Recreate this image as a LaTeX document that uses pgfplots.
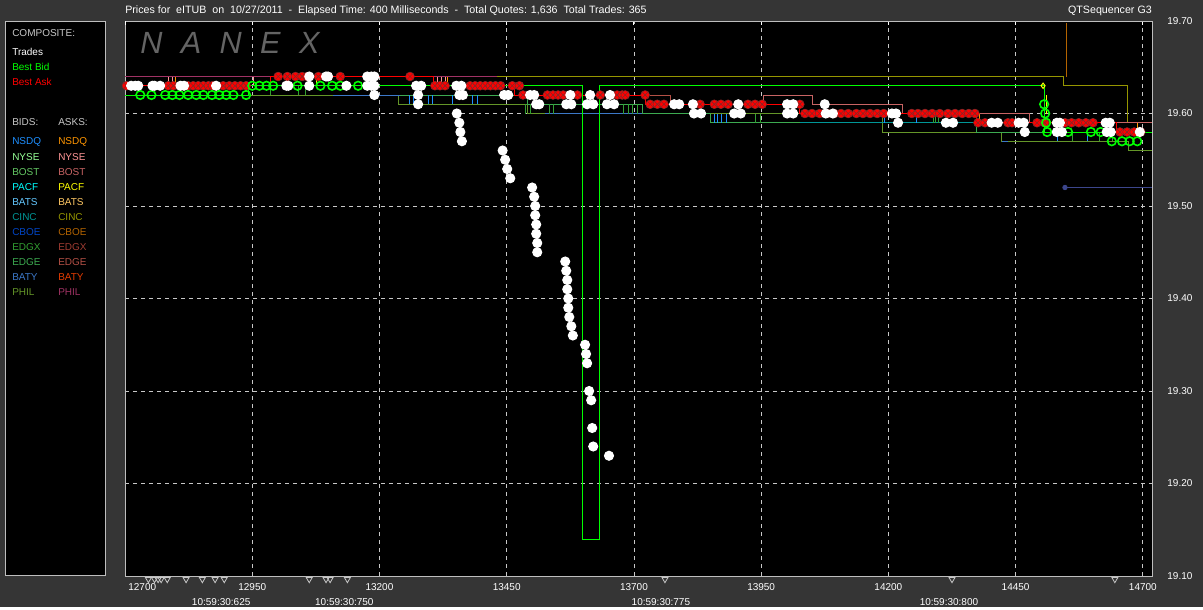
\documentclass[border=0pt]{standalone}
\usepackage{pgfplots}
\pgfplotsset{compat=1.18}
\usepackage{fontspec}
\setmainfont{Liberation Sans}
\newfontfamily\nanexfont[LetterSpace=60]{Liberation Sans}
\def\ttl{\fontsize{8pt}{9.6pt}\selectfont}
\def\lab{\fontsize{7.5pt}{9pt}\selectfont}
\definecolor{bg}{RGB}{53,53,53}
\definecolor{frame}{RGB}{190,190,190}
\definecolor{gridc}{RGB}{200,200,200}
\definecolor{lgray}{RGB}{200,200,200}
\definecolor{nanexgray}{RGB}{100,100,100}
\definecolor{bidgreen}{RGB}{0,255,0}
\definecolor{askred}{RGB}{255,0,0}
\definecolor{askdark}{RGB}{130,40,40}
\definecolor{nsdqB}{RGB}{30,144,255}
\definecolor{nyseB}{RGB}{150,255,150}
\definecolor{bostB}{RGB}{100,200,100}
\definecolor{pacfB}{RGB}{0,255,255}
\definecolor{batsB}{RGB}{100,200,255}
\definecolor{cincB}{RGB}{0,150,150}
\definecolor{cboeB}{RGB}{0,70,200}
\definecolor{edgxB}{RGB}{50,160,50}
\definecolor{edgeB}{RGB}{60,170,80}
\definecolor{batyB}{RGB}{60,120,200}
\definecolor{philB}{RGB}{100,150,40}
\definecolor{nsdqA}{RGB}{255,150,0}
\definecolor{nyseA}{RGB}{255,150,150}
\definecolor{bostA}{RGB}{200,100,100}
\definecolor{pacfA}{RGB}{255,255,0}
\definecolor{batsA}{RGB}{255,200,100}
\definecolor{cincA}{RGB}{150,150,0}
\definecolor{cboeA}{RGB}{180,100,0}
\definecolor{edgxA}{RGB}{160,60,50}
\definecolor{edgeA}{RGB}{180,80,70}
\definecolor{batyA}{RGB}{230,60,0}
\definecolor{philA}{RGB}{160,50,100}
\definecolor{navy}{RGB}{60,70,140}
\begin{document}
\begin{tikzpicture}
\begin{scope}[x=0.75pt,y=-0.75pt,yshift=455.25pt]
  \fill[bg] (0,0) rectangle (1203,607);
  \filldraw[fill=black, draw=frame, line width=0.75pt] (5,22) rectangle (105,575);
  \node[anchor=west, inner sep=0, text=white, font=\ttl] at (125,11) {Prices for\ \ eITUB\ \ on\ \ 10/27/2011\ \ -\ \ Elapsed Time: 400 Milliseconds\ \ -\ \ Total Quotes: 1,636\ \ Total Trades: 365};
  \node[anchor=east, inner sep=0, text=white, font=\ttl] at (1152,11) {QTSequencer G3};
  \begin{scope}[every node/.style={anchor=west, inner sep=0, font=\lab}]
    \node[text=lgray] at (12,33) {COMPOSITE:};
    \node[text=white] at (12,52) {Trades};
    \node[text=bidgreen] at (12,67) {Best Bid};
    \node[text=askred] at (12,82) {Best Ask};
    \node[text=lgray] at (12,122) {BIDS:};
    \node[text=lgray] at (58,122) {ASKS:};
    \node[text=nsdqB] at (12,142) {NSDQ}; \node[text=nsdqA] at (58,142) {NSDQ};
    \node[text=nyseB] at (12,157) {NYSE}; \node[text=nyseA] at (58,157) {NYSE};
    \node[text=bostB] at (12,172) {BOST}; \node[text=bostA] at (58,172) {BOST};
    \node[text=pacfB] at (12,187) {PACF}; \node[text=pacfA] at (58,187) {PACF};
    \node[text=batsB] at (12,202) {BATS}; \node[text=batsA] at (58,202) {BATS};
    \node[text=cincB] at (12,217) {CINC}; \node[text=cincA] at (58,217) {CINC};
    \node[text=cboeB] at (12,232) {CBOE}; \node[text=cboeA] at (58,232) {CBOE};
    \node[text=edgxB] at (12,247) {EDGX}; \node[text=edgxA] at (58,247) {EDGX};
    \node[text=edgeB] at (12,262) {EDGE}; \node[text=edgeA] at (58,262) {EDGE};
    \node[text=batyB] at (12,277) {BATY}; \node[text=batyA] at (58,277) {BATY};
    \node[text=philB] at (12,292) {PHIL}; \node[text=philA] at (58,292) {PHIL};
  \end{scope}
\end{scope}
\begin{axis}[
  at={(93.75pt,23.25pt)}, anchor=south west,
  scale only axis, width=770.25pt, height=416.25pt,
  xmin=12700, xmax=14718, ymin=19.10, ymax=19.70,
  axis background/.style={fill=black},
  axis line style={draw=frame, line width=0.75pt},
  clip=false,
  scaled ticks=false, scaled x ticks=false, scaled y ticks=false,
  xtick={12950,13200,13450,13700,13950,14200,14450,14700},
  xticklabels={12950,13200,13450,13700,13950,14200,14450,14700},
  extra x ticks={12700}, extra x tick labels={12700},
  extra x tick style={xmajorgrids=false, xticklabel style={anchor=north west, xshift=-1pt}},
  ytick={19.2,19.3,19.4,19.5,19.6},
  yticklabels={19.20,19.30,19.40,19.50,19.60},
  extra y ticks={19.1,19.7}, extra y tick labels={19.10,19.70},
  extra y tick style={ymajorgrids=false},
  xmajorgrids, ymajorgrids,
  major grid style={draw=gridc, line width=0.6pt, dash pattern=on 3pt off 3pt},
  xtick pos=right, xticklabel pos=left,
  ytick pos=right, yticklabel pos=right,
  ytick style={draw=none},
  xtick style={draw=white, line width=0.75pt},
  major tick length=3pt,
  tick label style={font=\lab, text=white},
  yticklabel style={anchor=west, xshift=8pt},
  xticklabel style={yshift=-2pt},
  every axis plot/.append style={line width=0.75pt},
]
% ---- exchange quote lines (asks) ----
\addplot[draw=philA] coordinates {(12700,19.64) (12985,19.64)};
\addplot[draw=philA] coordinates {(13306,19.64) (13431,19.64)};
\addplot[draw=cincA, const plot] coordinates {(13431,19.64) (14545,19.63) (14669,19.59) (14718,19.59)};
\addplot[draw=cboeA] coordinates {(14550,19.698) (14550,19.640)};
\addplot[draw=bostA, const plot] coordinates {(13954,19.62) (14050,19.61) (14228,19.60) (14478,19.59) (14718,19.59)};
\addplot[draw=bostA] coordinates {(13954,19.61) (13954,19.62)};
\addplot[draw=edgeA, const plot] coordinates {(13732,19.62) (13771,19.61) (13790,19.61)};
\addplot[draw=edgxA] coordinates {(14649,19.58) (14649,19.59)};
% ---- exchange quote lines (bids) ----
\addplot[draw=philB, const plot] coordinates {(12946,19.62) (13237,19.61) (13490,19.60) (14189,19.58) (14423,19.57) (14671,19.56) (14718,19.56)};
\addplot[draw=edgeB, const plot] coordinates {(13186,19.62) (13490,19.61) (13716,19.60) (13850,19.59) (14374,19.58) (14718,19.58)};
\addplot[draw=batyB] coordinates {(13109,19.62) (13241,19.62)};
\addplot[draw=batyB] coordinates {(13525,19.60) (13716,19.60)};
\addplot[draw=batyB] coordinates {(14423,19.57) (14435,19.57)};
\addplot[draw=cincB] coordinates {(14026,19.59) (14374,19.59)};
% ---- vertical quote flickers ----
\addplot[draw=nsdqB, unbounded coords=jump] coordinates {
 (13260,19.61) (13260,19.62) (13260,nan) (13266,19.61) (13266,19.62) (13266,nan)
 (13296,19.61) (13296,19.62) (13296,nan) (13304,19.61) (13304,19.62) (13304,nan)
 (13343,19.61) (13343,19.62) (13343,nan) (13382,19.61) (13382,19.62) (13382,nan)
 (13392,19.61) (13392,19.62) (13392,nan) (13859,19.59) (13859,19.60) (13859,nan)
 (13865,19.59) (13865,19.60) (13865,nan) (13873,19.59) (13873,19.60) (13873,nan)
 (13881,19.59) (13881,19.60) (13881,nan) (14193,19.59) (14193,19.60) (14193,nan)
 (14256,19.59) (14256,19.60) (14256,nan) (14533,19.57) (14533,19.58) (14533,nan)
 (14592,19.57) (14592,19.58)};
\addplot[draw=edgxB, unbounded coords=jump] coordinates {
 (12985,19.62) (12985,19.63) (12985,nan) (13040,19.62) (13040,19.63) (13040,nan)
 (13054,19.62) (13054,19.63) (13054,nan) (13486,19.60) (13486,19.61) (13486,nan)
 (13496,19.60) (13496,19.61) (13496,nan) (13535,19.60) (13535,19.61) (13535,nan)
 (13541,19.60) (13541,19.61) (13541,nan) (13679,19.60) (13679,19.61) (13679,nan)
 (13689,19.60) (13689,19.61) (13689,nan) (13698,19.60) (13698,19.61) (13698,nan)
 (13708,19.60) (13708,19.61) (13708,nan) (13938,19.59) (13938,19.60) (13938,nan)
 (13948,19.59) (13948,19.60) (13948,nan) (14288,19.59) (14288,19.60) (14288,nan)
 (14292,19.59) (14292,19.60) (14292,nan) (14298,19.59) (14298,19.60) (14298,nan)
 (14561,19.57) (14561,19.58) (14561,nan) (14615,19.57) (14615,19.58) (14615,nan)
 (14641,19.57) (14641,19.58)};
\addplot[draw=nyseA, unbounded coords=jump] coordinates {
 (12785,19.63) (12785,19.64) (12785,nan) (12793,19.63) (12793,19.64) (12793,nan)
 (12952,19.63) (12952,19.64) (12952,nan) (13314,19.63) (13314,19.64) (13314,nan)
 (13322,19.63) (13322,19.64) (13322,nan) (13330,19.63) (13330,19.64)};
\addplot[draw=nsdqA, unbounded coords=jump] coordinates {
 (12799,19.63) (12799,19.64) (12799,nan) (13333,19.63) (13333,19.64) (13333,nan)
 (14380,19.59) (14380,19.60) (14380,nan) (14690,19.58) (14690,19.59)};
\addplot[draw=pacfA, unbounded coords=jump] coordinates {
 (13076,19.63) (13076,19.64) (13076,nan) (14510,19.60) (14510,19.62)};
\addplot[draw=navy] coordinates {(14547,19.52) (14718,19.52)};
\addplot[only marks, mark=*, mark size=1.6pt, mark options={fill=navy, draw=navy}] coordinates {(14547,19.52)};
% ---- composite best bid / best ask ----
\addplot[draw=askred, const plot] coordinates {(12700,19.63) (12985,19.64) (13306,19.63) (13466,19.62) (13722,19.61) (14026,19.60) (14374,19.59) (14649,19.58) (14718,19.58)};
\addplot[draw=bidgreen, const plot] coordinates {(12700,19.62) (12942,19.63) (13598,19.14) (13632,19.63) (14506,19.58) (14718,19.58)};
% best ask markers
\addplot[only marks, mark=otimes*, mark size=3.3pt, mark options={fill=askred, draw=askdark, line width=0.45pt}] coordinates {
 (12703,19.63) (12785,19.63) (12795,19.63) (12824,19.63) (12834,19.63) (12844,19.63) (12854,19.63) (12864,19.63) (12872,19.63) (12893,19.63) (12905,19.63) (12916,19.63) (12927,19.63) (12938,19.63)
 (13001,19.64) (13019,19.64) (13035,19.64) (13048,19.64) (13058,19.64) (13080,19.64) (13099,19.64) (13123,19.64) (13260,19.64)
 (13309,19.63) (13319,19.63) (13329,19.63) (13378,19.63) (13388,19.63) (13398,19.63) (13408,19.63) (13418,19.63) (13428,19.63) (13438,19.63) (13461,19.63) (13475,19.63)
 (13482,19.62) (13530,19.62) (13541,19.62) (13551,19.62) (13561,19.62) (13589,19.62) (13634,19.62) (13667,19.62) (13677,19.62) (13683,19.62) (13722,19.62)
 (13732,19.61) (13746,19.61) (13759,19.61) (13830,19.61) (13858,19.61) (13871,19.61) (13885,19.61) (13924,19.61) (13938,19.61) (13952,19.61) (14026,19.61)
 (14036,19.60) (14050,19.60) (14065,19.60) (14080,19.60) (14094,19.60) (14107,19.60) (14121,19.60) (14137,19.60) (14150,19.60) (14164,19.60) (14178,19.60) (14191,19.60)
 (14246,19.60) (14258,19.60) (14272,19.60) (14286,19.60) (14301,19.60) (14317,19.60) (14331,19.60) (14345,19.60) (14358,19.60) (14370,19.60)
 (14376,19.59) (14390,19.59) (14435,19.59) (14443,19.59) (14492,19.59) (14507,19.59) (14547,19.59) (14560,19.59) (14574,19.59) (14588,19.59) (14602,19.59)
 (14655,19.58) (14669,19.58) (14683,19.58) (14696,19.58)};
% best bid markers
\addplot[only marks, mark=o, mark size=3.2pt, mark options={draw=bidgreen, line width=1.2pt}] coordinates {
 (12730,19.62) (12752,19.62) (12779,19.62) (12793,19.62) (12807,19.62) (12824,19.62) (12840,19.62) (12854,19.62) (12871,19.62) (12885,19.62) (12899,19.62) (12913,19.62) (12938,19.62)
 (12950,19.63) (12964,19.63) (12978,19.63) (12991,19.63) (13039,19.63) (13084,19.63) (13107,19.63) (13123,19.63) (13158,19.63)
 (14506,19.61) (14508,19.60) (14510,19.59) (14512,19.58) (14553,19.58) (14598,19.58) (14617,19.58)
 (14639,19.57) (14659,19.57) (14674,19.57) (14689,19.57)};
\addplot[only marks, mark=diamond, mark size=2pt, mark options={draw=pacfA, line width=0.75pt}] coordinates {(14504,19.63)};
% ---- trades ----
\addplot[only marks, mark=*, mark size=3.4pt, mark options={fill=white, draw=white}] coordinates {
 (12712,19.63) (12720,19.63) (12726,19.63) (12754,19.63) (12758,19.63) (12769,19.63) (12809,19.63) (12816,19.63) (12879,19.63)
 (13017,19.63) (13021,19.63) (13062,19.63) (13135,19.63) (13176,19.63) (13184,19.63) (13190,19.63) (13272,19.63) (13282,19.63) (13351,19.63) (13361,19.63)
 (13062,19.64) (13095,19.64) (13099,19.64) (13176,19.64) (13184,19.64) (13190,19.64)
 (13190,19.62) (13276,19.62) (13357,19.62) (13364,19.62) (13445,19.62) (13453,19.62) (13496,19.62) (13504,19.62) (13575,19.62) (13614,19.62) (13653,19.62)
 (13276,19.61) (13508,19.61) (13514,19.61) (13567,19.61) (13577,19.61) (13608,19.61) (13620,19.61) (13647,19.61) (13661,19.61) (13779,19.61) (13789,19.61) (13816,19.61) (13905,19.61) (14001,19.61) (14013,19.61) (14075,19.61)
 (13818,19.60) (13832,19.60) (13897,19.60) (13910,19.60) (14001,19.60) (14013,19.60) (14077,19.60) (14091,19.60) (14207,19.60) (14215,19.60)
 (14219,19.59) (14313,19.59) (14327,19.59) (14403,19.59) (14415,19.59) (14456,19.59) (14466,19.59) (14531,19.59) (14537,19.59) (14627,19.59) (14635,19.59)
 (14468,19.58) (14531,19.58) (14541,19.58) (14629,19.58) (14637,19.58) (14694,19.58)
 (13352,19.60) (13357,19.59) (13359,19.58) (13362,19.57) (13442,19.56) (13447,19.55) (13451,19.54) (13457,19.53)
 (13500,19.52) (13504,19.51) (13506,19.50) (13506,19.49) (13508,19.48) (13508,19.47) (13510,19.46) (13510,19.45)
 (13565,19.44) (13567,19.43) (13569,19.42) (13569,19.41) (13571,19.40) (13571,19.39) (13573,19.38) (13577,19.37) (13580,19.36)
 (13604,19.35) (13606,19.34) (13608,19.33) (13612,19.30) (13616,19.29) (13618,19.26) (13620,19.24) (13651,19.23)};
% ---- trade ticks under the axis ----
\addplot[only marks, mark=triangle, mark size=2.6pt, mark options={rotate=180, draw=lgray, line width=0.6pt}] coordinates {
 (12746,19.0965) (12758,19.0965) (12765,19.0965) (12771,19.0965) (12783,19.0965) (12820,19.0965) (12852,19.0965) (12877,19.0965) (12895,19.0965)
 (13062,19.0965) (13095,19.0965) (13103,19.0965) (13137,19.0965) (13761,19.0965) (14325,19.0965) (14645,19.0965)};
% time stamps
\node[text=white, font=\lab, yshift=-19.5pt] at (axis cs:12889,19.10) {10:59:30:625};
\node[text=white, font=\lab, yshift=-19.5pt] at (axis cs:13131,19.10) {10:59:30:750};
\node[text=white, font=\lab, yshift=-19.5pt] at (axis cs:13753,19.10) {10:59:30:775};
\node[text=white, font=\lab, yshift=-19.5pt] at (axis cs:14319,19.10) {10:59:30:800};
\end{axis}
\begin{scope}[x=0.75pt,y=-0.75pt,yshift=455.25pt]
  \node[anchor=west, inner sep=0, text=nanexgray, font=\fontsize{23pt}{25pt}\nanexfont\itshape] at (140,43) {NANEX};
\end{scope}
\end{tikzpicture}
\end{document}
